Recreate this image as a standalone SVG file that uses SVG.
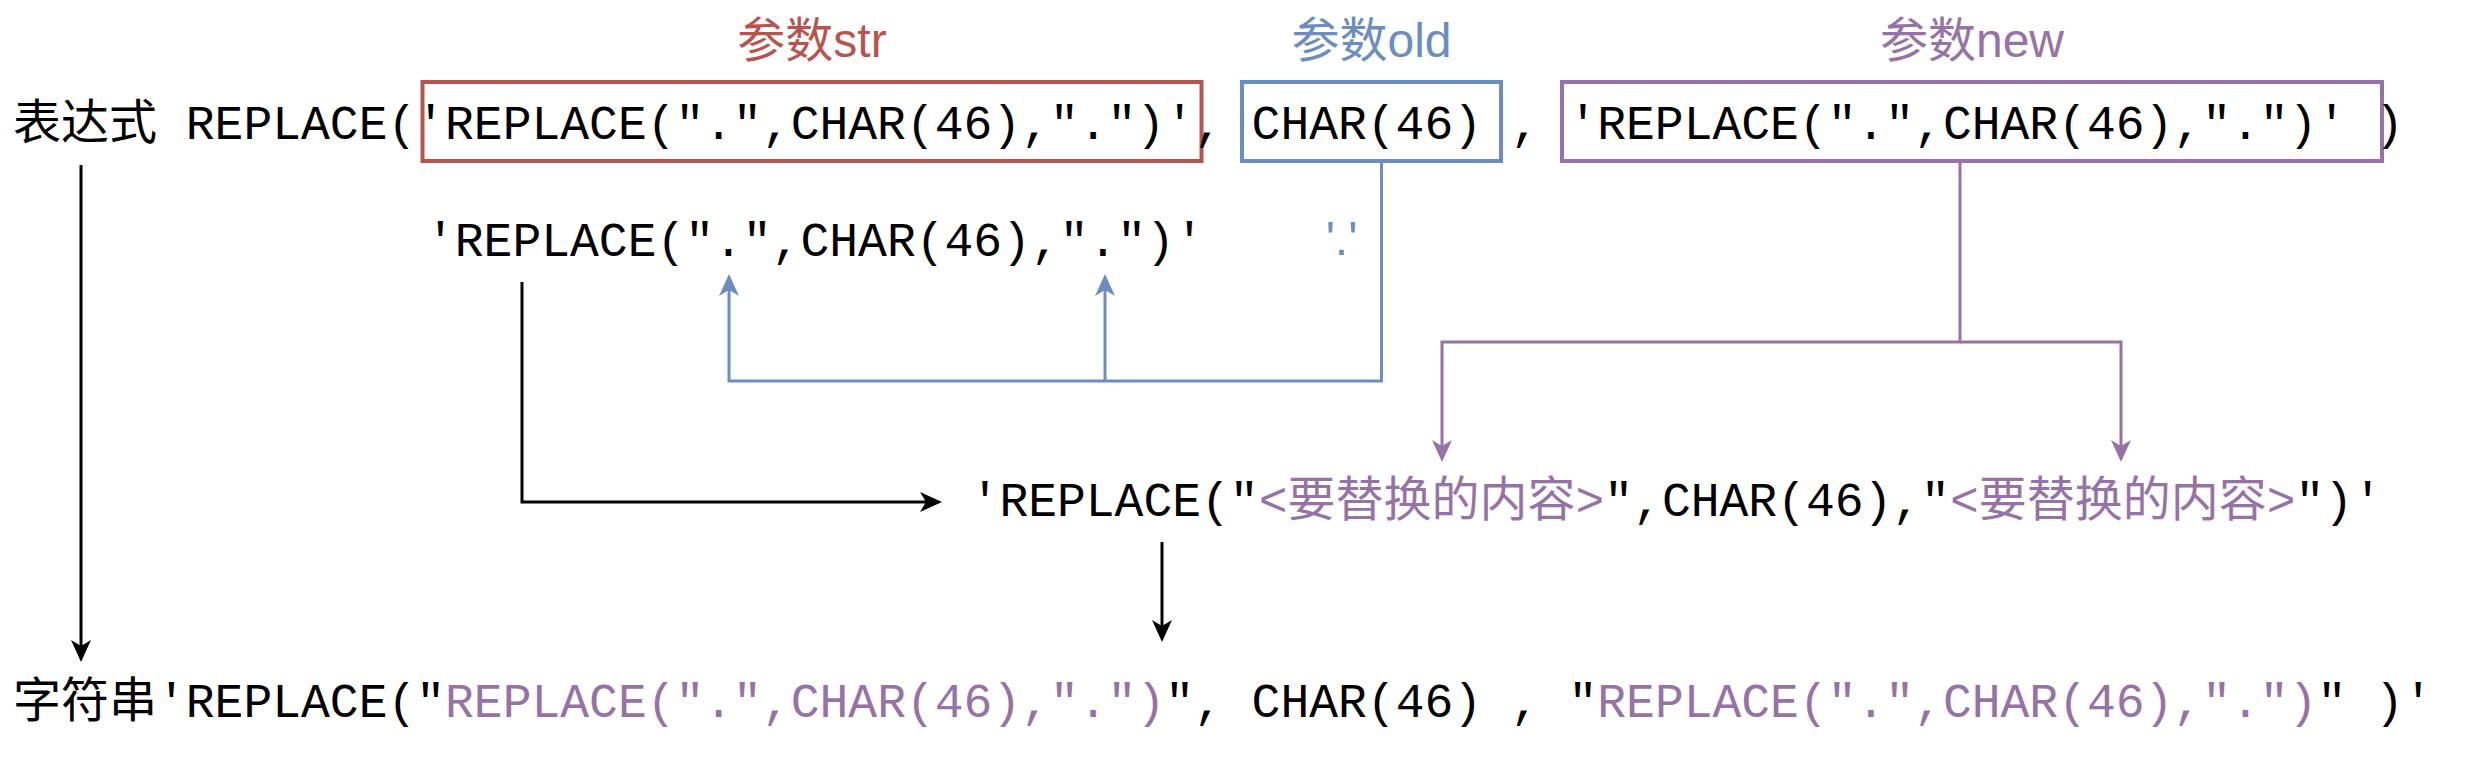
<svg xmlns="http://www.w3.org/2000/svg" width="2480" height="760" viewBox="0 0 2480 760">
<defs>
<style>
.mono{font-family:"Liberation Mono","Noto Sans CJK SC",monospace;font-size:48px;fill:#000;white-space:pre}
.lbl{font-family:"Liberation Sans","Noto Sans CJK SC",sans-serif;font-size:48px;text-anchor:middle;white-space:pre}
.red{fill:#b85450}
.blue{fill:#6c8ebf}
.pur{fill:#9673a6}
.box{fill:#fff;fill-opacity:0;stroke-width:4}
.conn{fill:none;stroke-width:3}
</style>
<marker id="ak" markerUnits="userSpaceOnUse" markerWidth="22" markerHeight="20" viewBox="0 0 22 20" refX="9" refY="10" orient="auto">
<path d="M0,0 L22,10 L0,20 L6,10 Z" fill="#000"/>
</marker>
<marker id="ab" markerUnits="userSpaceOnUse" markerWidth="22" markerHeight="20" viewBox="0 0 22 20" refX="9" refY="10" orient="auto">
<path d="M0,0 L22,10 L0,20 L6,10 Z" fill="#6c8ebf"/>
</marker>
<marker id="ap" markerUnits="userSpaceOnUse" markerWidth="22" markerHeight="20" viewBox="0 0 22 20" refX="9" refY="10" orient="auto">
<path d="M0,0 L22,10 L0,20 L6,10 Z" fill="#9673a6"/>
</marker>
</defs>
<rect width="2480" height="760" fill="#fff"/>

<g id="connectors">
<path class="conn" stroke="#000" d="M81,165 V649" marker-end="url(#ak)"/>
<path class="conn" stroke="#000" stroke-width="4" d="M522,282 V502 H929" marker-end="url(#ak)"/>
<path class="conn" stroke="#000" d="M1162,542 V629" marker-end="url(#ak)"/>
<path class="conn" stroke="#6c8ebf" d="M1381.5,161 V381 H729 V287" marker-end="url(#ab)"/>
<path class="conn" stroke="#6c8ebf" d="M1105,381 V287" marker-end="url(#ab)"/>
<path class="conn" stroke="#9673a6" d="M1960,161 V342 H1442 V449" marker-end="url(#ap)"/>
<path class="conn" stroke="#9673a6" d="M1960,342 H2121 V449" marker-end="url(#ap)"/>
</g>

<g id="label-str"><text class="lbl red" x="812" y="57">参数str</text></g>
<g id="label-old"><text class="lbl blue" x="1371.5" y="57">参数old</text></g>
<g id="label-new"><text class="lbl pur" x="1972" y="57">参数new</text></g>

<g id="box-str"><rect class="box" stroke="#b85450" x="422.5" y="82" width="779" height="79"/></g>
<g id="box-old"><rect class="box" stroke="#6c8ebf" x="1242" y="82" width="259" height="79"/></g>
<g id="box-new"><rect class="box" stroke="#9673a6" x="1562" y="82" width="820" height="79"/></g>

<g id="expression"><text class="mono" x="13" y="139">表达式 REPLACE('REPLACE(".",CHAR(46),".")', CHAR(46) , 'REPLACE(".",CHAR(46),".")' )</text></g>

<g id="str-value"><text class="mono" x="426" y="256">'REPLACE(".",CHAR(46),".")'</text></g>
<g id="old-value"><text class="lbl blue" x="1341.5" y="255">'.'</text></g>

<g id="template"><text class="mono" x="970.6" y="516">'REPLACE("<tspan class="pur">&lt;要替换的内容&gt;</tspan>",CHAR(46),"<tspan class="pur">&lt;要替换的内容&gt;</tspan>")'</text></g>

<g id="result"><text class="mono" x="13" y="717">字符串'REPLACE("<tspan class="pur">REPLACE(".",CHAR(46),".")</tspan>", CHAR(46) , "<tspan class="pur">REPLACE(".",CHAR(46),".")</tspan>" )'</text></g>
</svg>
